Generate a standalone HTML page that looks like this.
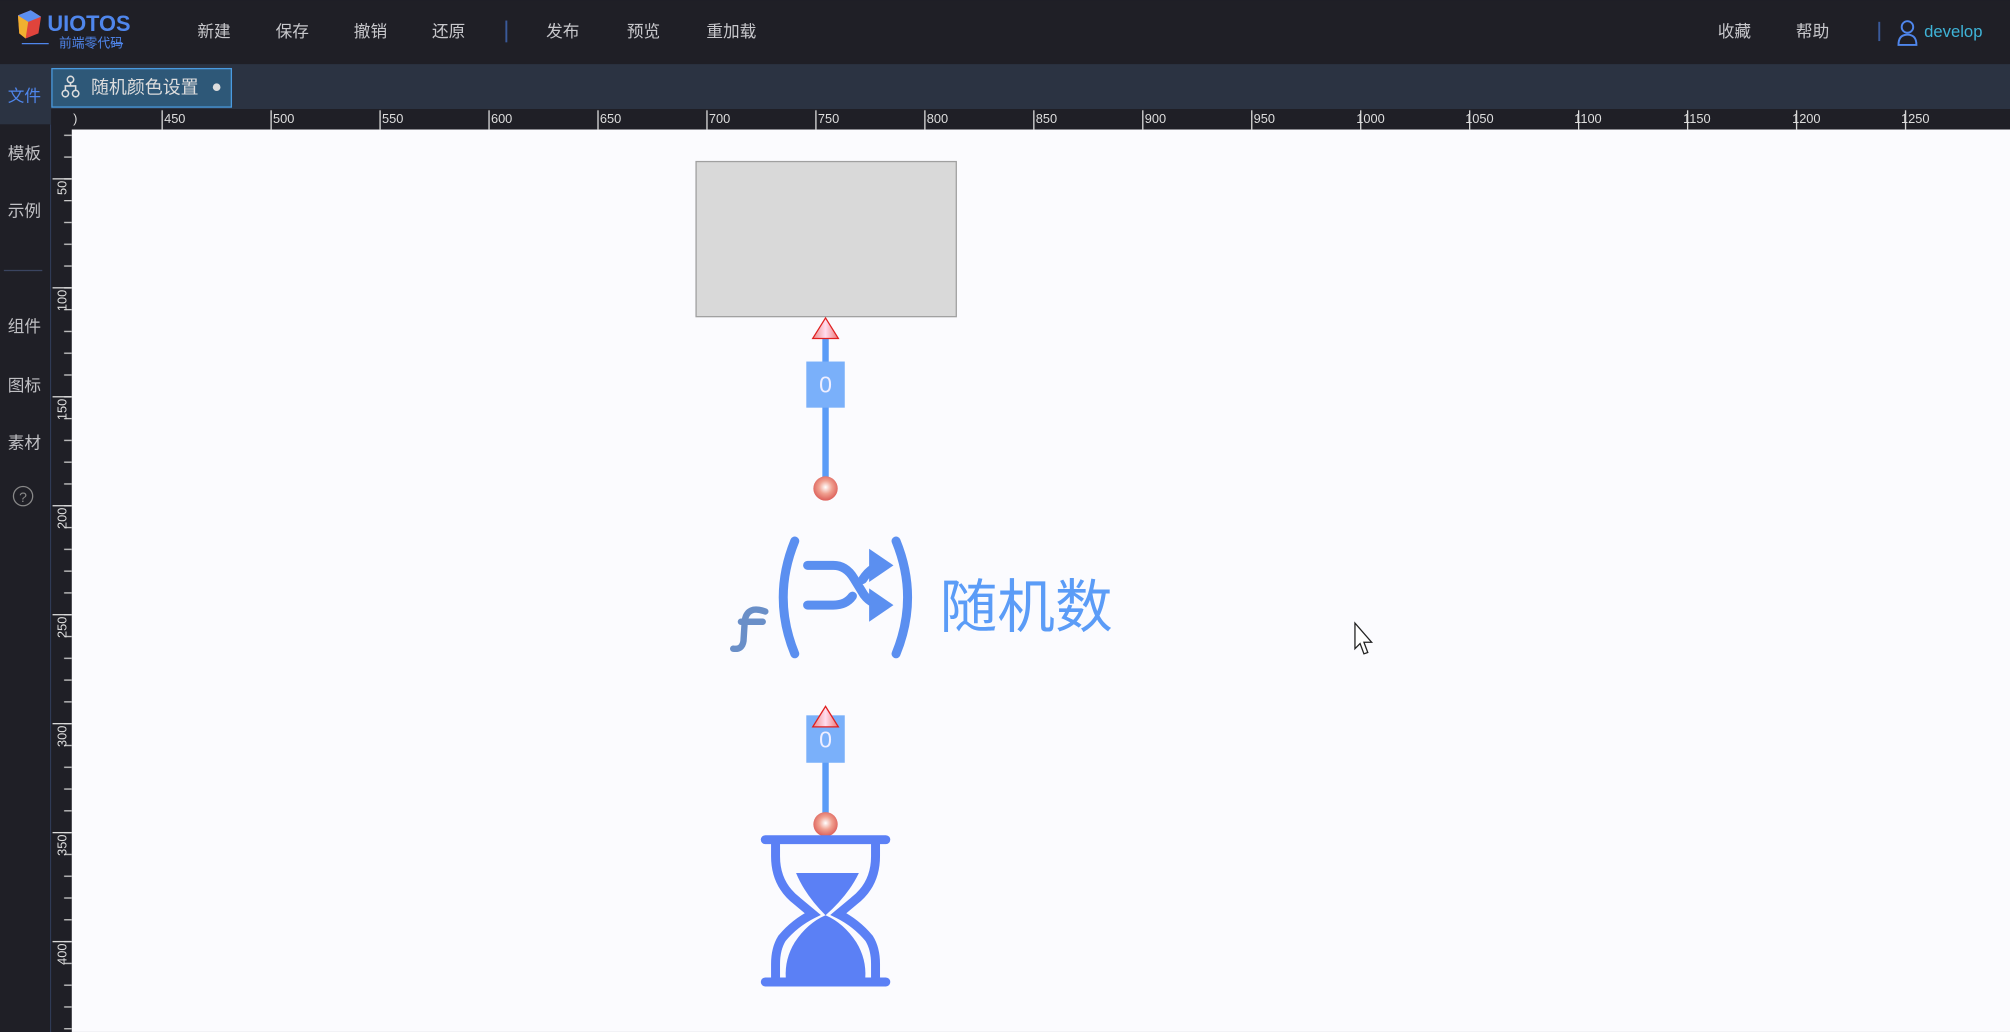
<!DOCTYPE html>
<html><head><meta charset="utf-8"><style>
html,body{margin:0;padding:0;background:#1f1f26;overflow:hidden}
svg{display:block}
text{font-family:"Liberation Sans","Noto Sans CJK SC",sans-serif}
</style></head><body>
<svg width="2010" height="1032" viewBox="0 0 1568 805" xmlns="http://www.w3.org/2000/svg">
<defs>
<pattern id="tmin" x="126" y="0" width="17" height="20" patternUnits="userSpaceOnUse"><rect x="0" y="95" width="1" height="6" fill="#ccc"/></pattern>
<pattern id="tmaj" x="126" y="0" width="85" height="120" patternUnits="userSpaceOnUse"><rect x="0" y="86" width="1" height="15" fill="#ddd"/></pattern>
<pattern id="lmin" x="0" y="139" width="60" height="17" patternUnits="userSpaceOnUse"><rect x="50" y="0" width="6" height="1" fill="#ccc"/></pattern>
<pattern id="lmaj" x="0" y="139" width="60" height="85" patternUnits="userSpaceOnUse"><rect x="41" y="0" width="15" height="1" fill="#ddd"/></pattern>
<radialGradient id="ball" cx="0.5" cy="0.45" r="0.6"><stop offset="0" stop-color="#fff"/><stop offset="0.45" stop-color="#f0a090"/><stop offset="1" stop-color="#d9534f"/></radialGradient>
<linearGradient id="tri" x1="0" y1="0" x2="1" y2="0"><stop offset="0" stop-color="#e88"/><stop offset="0.5" stop-color="#fde"/><stop offset="1" stop-color="#e77"/></linearGradient>
</defs>
<rect x="0" y="0" width="1568" height="50" fill="#1f1f26"/>
<path d="M14 12 L24 8 L32 13 L30 26 L20 30 L15 26Z" fill="#e0443c"/>
<path d="M14 12 L24 8 L32 13 L22 17Z" fill="#5b8ef0"/>
<path d="M14 12 L22 17 L20 30 L15 26Z" fill="#f0b030"/>
<text x="37" y="24" font-size="17" font-weight="bold" fill="#4f86ec">UIOTOS</text>
<line x1="17" y1="34" x2="38" y2="34" stroke="#4f86ec" stroke-width="1"/>
<line x1="88" y1="34" x2="96" y2="34" stroke="#4f86ec" stroke-width="1"/>
<text x="46" y="37" font-size="10" fill="#4f86ec">前端零代码</text>
<g font-size="13" fill="#c8c8cc">
<text x="154" y="29">新建</text><text x="215" y="29">保存</text><text x="276" y="29">撤销</text><text x="337" y="29">还原</text>
<text x="426" y="29">发布</text><text x="489" y="29">预览</text><text x="551" y="29">重加载</text>
<text x="1340" y="29">收藏</text><text x="1401" y="29">帮助</text>
</g>
<line x1="395" y1="16" x2="395" y2="33" stroke="#3a5a9a" stroke-width="1.5"/>
<line x1="1466" y1="17" x2="1466" y2="32" stroke="#3a5a9a" stroke-width="1.5"/>
<circle cx="1488" cy="21" r="4.5" fill="none" stroke="#4f86ec" stroke-width="1.5"/>
<path d="M1481 35 Q1481 27 1488 27 Q1495 27 1495 35Z" fill="none" stroke="#4f86ec" stroke-width="1.5"/>
<text x="1501" y="29" font-size="13" fill="#3fb4d8">develop</text>
<rect x="0" y="50" width="1568" height="35" fill="#2b3342"/>
<rect x="0" y="85" width="40" height="12" fill="#2b3342"/>
<rect x="40.5" y="53.5" width="140" height="30" fill="#2e5878" stroke="#4a9be0"/>
<g fill="none" stroke="#ddd" stroke-width="1.2"><circle cx="55" cy="62" r="2.5"/><circle cx="51" cy="73" r="2.5"/><circle cx="59" cy="73" r="2.5"/><path d="M55 64.5V67M51 70.5V67H59V70.5"/></g>
<text x="71" y="73" font-size="14" fill="#ddd">随机颜色设置</text>
<circle cx="169" cy="68" r="3" fill="#ddd"/>
<rect x="0" y="97" width="40" height="708" fill="#1f1f26"/>
<line x1="39.5" y1="97" x2="39.5" y2="805" stroke="#2f3a55"/>
<text x="6" y="79" font-size="13" fill="#4f86ec">文件</text>
<g font-size="13" fill="#c0c0c4"><text x="6" y="124">模板</text><text x="6" y="169">示例</text><text x="6" y="259">组件</text><text x="6" y="305">图标</text><text x="6" y="350">素材</text></g>
<line x1="3" y1="211" x2="33" y2="211" stroke="#3a4460"/>
<circle cx="18" cy="387" r="7.5" fill="none" stroke="#888" stroke-width="1"/>
<text x="18" y="391.5" font-size="11" fill="#888" text-anchor="middle">?</text>
<rect x="40" y="85" width="1528" height="16" fill="#1f1f26"/>
<rect x="40" y="85" width="16" height="720" fill="#1f1f26"/>
<rect x="56" y="85" width="1512" height="16" fill="url(#tmin)"/>
<rect x="56" y="85" width="1512" height="16" fill="url(#tmaj)"/>
<rect x="40" y="101" width="16" height="704" fill="url(#lmin)"/>
<rect x="40" y="101" width="16" height="704" fill="url(#lmaj)"/>
<g font-size="10" fill="#ddd">
<text x="57" y="96">)</text>
<text x="128" y="96">450</text><text x="213" y="96">500</text><text x="298" y="96">550</text><text x="383" y="96">600</text><text x="468" y="96">650</text><text x="553" y="96">700</text><text x="638" y="96">750</text><text x="723" y="96">800</text><text x="808" y="96">850</text><text x="893" y="96">900</text><text x="978" y="96">950</text><text x="1058" y="96">1000</text><text x="1143" y="96">1050</text><text x="1228" y="96">1100</text><text x="1313" y="96">1150</text><text x="1398" y="96">1200</text><text x="1483" y="96">1250</text>
<text transform="translate(52,141) rotate(-90)" text-anchor="end">50</text>
<text transform="translate(52,226) rotate(-90)" text-anchor="end">100</text>
<text transform="translate(52,311) rotate(-90)" text-anchor="end">150</text>
<text transform="translate(52,396) rotate(-90)" text-anchor="end">200</text>
<text transform="translate(52,481) rotate(-90)" text-anchor="end">250</text>
<text transform="translate(52,566) rotate(-90)" text-anchor="end">300</text>
<text transform="translate(52,651) rotate(-90)" text-anchor="end">350</text>
<text transform="translate(52,736) rotate(-90)" text-anchor="end">400</text>
</g>
<rect x="56" y="101" width="1512" height="704" fill="#fbfbfe"/>
<rect x="543" y="126" width="203" height="121" fill="#d9d9d9" stroke="#a0a0a0"/>
<line x1="644" y1="258" x2="644" y2="381" stroke="#5b9cf7" stroke-width="5"/>
<rect x="629" y="282" width="30" height="36" fill="#7ab0fa"/>
<text x="644" y="306" font-size="18" fill="#eef" text-anchor="middle">0</text>
<path d="M644 248 L654 264 L634 264Z" fill="url(#tri)" stroke="#e02020" stroke-width="1"/>
<circle cx="644" cy="381" r="9.5" fill="url(#ball)"/>
<path d="M597 477 Q583 472 581 484 L580 500 Q579 507 572 506" fill="none" stroke="#6a8fc8" stroke-width="5" stroke-linecap="round"/>
<line x1="578" y1="485" x2="595" y2="485" stroke="#6a8fc8" stroke-width="5" stroke-linecap="round"/>
<g fill="none" stroke="#5b8ff0" stroke-width="7" stroke-linecap="round">
<path d="M620 422 Q602 466 620 510"/>
<path d="M699 422 Q717 466 699 510"/>
<path d="M630 441 H650 Q660 441 666 451 L674 464 Q680 472 690 472"/>
<path d="M630 472 H650 Q660 472 665 465"/>
<path d="M673 452 Q680 441 690 441"/>
</g>
<path d="M678 428 L697 441 L678 454Z M678 459 L697 472 L678 485Z" fill="#5b8ff0"/>
<text x="733" y="489" font-size="45" fill="#5b9cf7">随机数</text>
<line x1="644" y1="566" x2="644" y2="643" stroke="#5b9cf7" stroke-width="5"/>
<rect x="629" y="558" width="30" height="37" fill="#7ab0fa"/>
<text x="644" y="583" font-size="18" fill="#eef" text-anchor="middle">0</text>
<path d="M644 551 L654 567 L634 567Z" fill="url(#tri)" stroke="#e02020" stroke-width="1"/>
<circle cx="644" cy="643" r="9.5" fill="url(#ball)"/>
<g fill="none" stroke="#5b80f5" stroke-width="7" stroke-linecap="round">
<line x1="597" y1="655" x2="691" y2="655"/>
<line x1="597" y1="766" x2="691" y2="766"/>
<path d="M605 657 V668 Q605 690 622 703 L634 713 Q620 720 610 732 Q605 740 605 752 V765"/>
<path d="M683 657 V668 Q683 690 666 703 L654 713 Q668 720 678 732 Q683 740 683 752 V765"/>
</g>
<path d="M621 681 H670 Q662 698 644 714 Q628 698 621 681Z" fill="#5b80f5"/>
<path d="M644 714 Q658 720 668 735 Q676 748 675 763 H613 Q612 748 620 735 Q630 720 644 714Z" fill="#5b80f5"/>
<path d="M1057 486 V506 L1061 502 L1064 510 L1067 509 L1064 501 L1070 501Z" fill="#fff" stroke="#222" stroke-width="1"/>
</svg>
</body></html>
